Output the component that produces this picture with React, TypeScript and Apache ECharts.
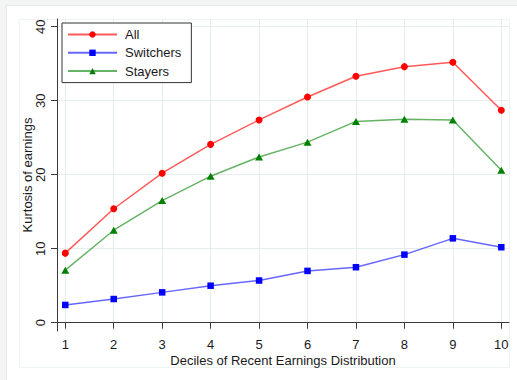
import React, { useEffect, useRef } from "react";
import * as echarts from "echarts";

// Deciles on the horizontal axis
const deciles = [1, 2, 3, 4, 5, 6, 7, 8, 9, 10];
// Kurtosis of earnings by decile
const allValues = [9.4, 15.4, 20.2, 24.1, 27.4, 30.5, 33.3, 34.6, 35.2, 28.7];
const switcherValues = [2.4, 3.2, 4.1, 5.0, 5.7, 7.0, 7.5, 9.2, 11.4, 10.2];
const stayerValues = [7.1, 12.5, 16.5, 19.8, 22.4, 24.4, 27.2, 27.5, 27.4, 20.6];
// Tick labels
const yTicks = [0, 10, 20, 30, 40];

const FONT = "'Liberation Sans', Arial, sans-serif";
const GRID_COLOR = "#e6eded";
const AXIS_COLOR = "#3a3a3a";

const pairs = (vals: number[]) => deciles.map((d, i) => [d, vals[i]]);

export default function App() {
  const ref = useRef<HTMLDivElement>(null);

  useEffect(() => {
    if (!ref.current) return;
    const chart = echarts.init(ref.current, undefined, { renderer: "svg" });
    chart.setOption({
      animation: false,
      backgroundColor: "#f3f4f4",
      textStyle: { fontFamily: FONT },
      graphic: [
        {
          type: "rect",
          z: -10,
          shape: { x: 6.5, y: 5.5, width: 520, height: 380 },
          style: { fill: "#ffffff", stroke: "#e4e9e9", lineWidth: 1 },
        },
        {
          type: "rect",
          z: -9,
          shape: { x: 19.5, y: 19.5, width: 490, height: 348 },
          style: { fill: "none", stroke: "#eef3f3", lineWidth: 1 },
        },
      ],
      grid: { left: 57, right: 8, top: 19, bottom: 49, containLabel: false },
      legend: {
        orient: "vertical",
        left: 62,
        top: 23,
        padding: [5, 10, 5, 5],
        itemWidth: 49,
        itemHeight: 8,
        itemGap: 5.3,
        backgroundColor: "#ffffff",
        borderColor: "#333333",
        borderWidth: 1,
        borderRadius: 0,
        textStyle: {
          fontFamily: FONT,
          fontSize: 13,
          color: "#1a1a1a",
          lineHeight: 13,
          padding: [0, 0, 0, 3],
        },
        data: ["All", "Switchers", "Stayers"],
      },
      xAxis: {
        type: "value",
        min: 0.829,
        max: 10.159,
        name: "Deciles of Recent Earnings Distribution",
        nameLocation: "middle",
        nameGap: 23,
        nameMoveOverlap: false,
        nameTextStyle: { fontFamily: FONT, fontSize: 13, color: "#1a1a1a" },
        axisLine: { show: true, lineStyle: { color: AXIS_COLOR, width: 1 } },
        axisTick: {
          show: true,
          length: 6,
          customValues: deciles,
          lineStyle: { color: AXIS_COLOR },
        },
        axisLabel: {
          customValues: deciles,
          margin: 7,
          fontFamily: FONT,
          fontSize: 13,
          color: "#1a1a1a",
        },
        splitLine: { show: true, lineStyle: { color: GRID_COLOR, width: 1 } },
      },
      yAxis: {
        type: "value",
        min: -1.12,
        max: 41.04,
        name: "Kurtosis of earnings",
        nameLocation: "middle",
        nameGap: 23,
        nameMoveOverlap: false,
        nameTextStyle: { fontFamily: FONT, fontSize: 13, color: "#1a1a1a" },
        axisLine: { show: true, lineStyle: { color: AXIS_COLOR, width: 1 } },
        axisTick: {
          show: true,
          length: 6,
          customValues: yTicks,
          lineStyle: { color: AXIS_COLOR },
        },
        axisLabel: {
          customValues: yTicks,
          rotate: 90,
          margin: 10,
          fontFamily: FONT,
          fontSize: 13,
          color: "#1a1a1a",
        },
        splitLine: { show: true, lineStyle: { color: GRID_COLOR, width: 1 } },
      },
      series: [
        {
          name: "All",
          type: "line",
          data: pairs(allValues),
          symbol: "circle",
          symbolSize: 7,
          itemStyle: { color: "#ff0000" },
          lineStyle: { color: "rgba(255,0,0,0.65)", width: 1.5 },
          z: 4,
        },
        {
          name: "Switchers",
          type: "line",
          data: pairs(switcherValues),
          symbol: "rect",
          symbolSize: 6.5,
          itemStyle: { color: "#0000ff" },
          lineStyle: { color: "rgba(0,0,255,0.6)", width: 1.5 },
          z: 3,
        },
        {
          name: "Stayers",
          type: "line",
          data: pairs(stayerValues),
          symbol: "triangle",
          symbolSize: [8, 7],
          itemStyle: { color: "#008000" },
          lineStyle: { color: "rgba(0,128,0,0.6)", width: 1.5 },
          z: 3,
        },
      ],
    });
    return () => chart.dispose();
  }, []);

  return (
    <div
      ref={ref}
      style={{ position: "absolute", left: 0, top: 0, width: 517, height: 380 }}
    />
  );
}
